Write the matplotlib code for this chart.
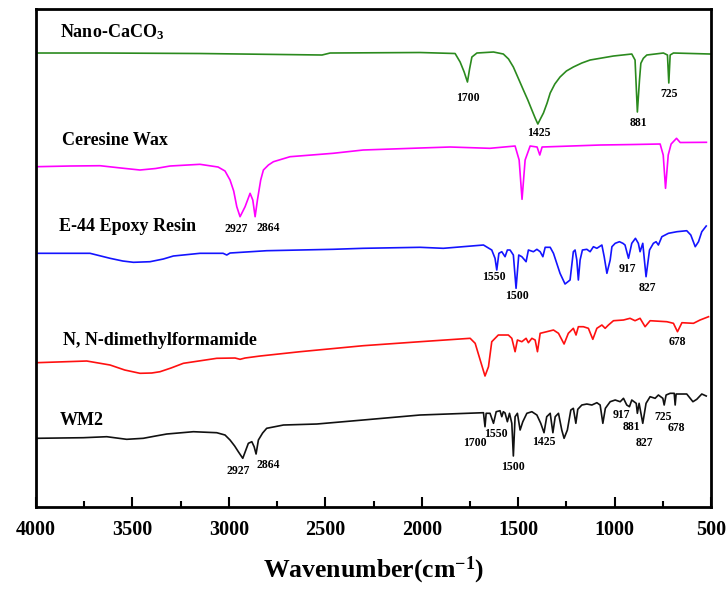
import matplotlib
matplotlib.use("Agg")
import matplotlib.pyplot as plt

plt.rcParams['font.family'] = ['Liberation Serif', 'DejaVu Serif']
plt.rcParams['font.weight'] = 'bold'
plt.rcParams['mathtext.fontset'] = 'custom'
plt.rcParams['mathtext.rm'] = 'Liberation Serif:bold'
plt.rcParams['mathtext.bf'] = 'Liberation Serif:bold'
plt.rcParams['mathtext.it'] = 'Liberation Serif:bold'

# spectra: wavenumber (cm-1) and transmittance (a.u., stacked)
wn_caco3 = [4000, 3668, 3149, 2517, 2475, 2009, 1827, 1801, 1780, 1763, 1752, 1740, 1714, 1628,
            1577, 1550, 1525, 1500, 1473, 1450, 1429, 1412, 1398, 1385, 1369, 1350, 1334, 1310,
            1283, 1250, 1214, 1170, 1127, 1006, 911, 894, 882,
            871, 864, 851, 833, 747, 726, 719, 712, 695, 505]
t_caco3 = [454, 454, 453.5, 452, 454, 454.5, 453.5, 445, 435, 425, 438, 450, 454, 455,
           453, 448, 440, 429, 417, 407, 397, 389, 383, 388, 394, 404, 414, 423,
           430, 436, 440, 444, 447, 451, 453, 447, 395,
           427, 443.7, 448.7, 452, 454, 452, 424, 452, 454, 453]

wn_wax = [4000, 3824, 3668, 3560, 3461, 3380, 3305, 3150, 3056, 3020, 2994, 2975, 2959, 2942, 2916,
          2890, 2876, 2864, 2852, 2835, 2821, 2795, 2769, 2683, 2460, 2304, 2009, 1853, 1647,
          1516, 1495, 1480, 1464, 1438, 1402, 1388, 1376, 1075, 904, 764, 748, 736, 722, 707,
          679, 660, 524]
t_wax = [340.3, 341, 341.3, 339, 337, 338.5, 341, 342.7, 340, 336, 327, 316, 300.3, 290.3, 300.3,
         313.7, 307, 290.3, 307, 327, 337, 342, 345.3, 350.3, 353.7, 357, 359, 360, 358.7,
         361, 347, 307.7, 347, 361, 360, 352, 360, 362, 362.5, 363, 352, 318.7, 352, 363,
         368.7, 364.5, 364.7]

wn_epoxy = [4000, 3720, 3616, 3550, 3495, 3409, 3340, 3288, 3150, 3030, 3011, 2994, 2804, 2460,
            2304, 2009, 1888, 1680, 1637, 1620, 1611, 1600, 1585, 1568, 1556, 1542, 1525, 1511,
            1497, 1481, 1459, 1447, 1421, 1403, 1386, 1372, 1360, 1334, 1317, 1300, 1283, 1257,
            1231, 1214, 1205, 1196, 1188, 1179, 1167, 1144, 1127, 1110, 1092, 1066, 1054, 1040,
            1023, 1014, 997, 975, 957, 946, 928, 911, 892, 877, 868, 854, 837, 819,
            799, 785, 773, 755, 721, 677, 626, 605, 582, 565, 548, 525]
t_epoxy = [253.7, 253.7, 248.7, 246, 244.7, 245.3, 248, 251, 253.7, 253.7, 252, 254, 256.3, 257.7,
           258.7, 259.7, 258.7, 262, 257, 248.7, 237, 253.7, 255.3, 250.3, 257, 257, 252, 218.7,
           252, 250.3, 245.3, 257, 255.3, 257.7, 255.3, 250.3, 259.7, 259.7, 253.7, 243.7, 233.7, 223,
           227, 255.3, 257, 247, 227, 247, 257, 257.7, 255.3, 260.3, 258.7, 262, 250.3, 233.7,
           247, 260.3, 263.7, 265.3, 263.7, 262, 248.7, 263.7, 268.7, 263.7, 255.3, 263.7, 230.3, 257,
           263.7, 265.3, 262, 270.3, 273.7, 275.3, 276.3, 272, 260.3, 265.3, 275.3, 281]

wn_dmf = [4000, 3737, 3616, 3540, 3461, 3400, 3357, 3300, 3236, 3063, 2968, 2942, 2916, 2838,
          2631, 2304, 2009, 1749, 1723, 1697, 1672, 1654, 1637, 1603, 1551, 1533, 1516, 1504,
          1481, 1459, 1447, 1429, 1412, 1400, 1386, 1352, 1317, 1291, 1262, 1240, 1214, 1200,
          1188, 1162, 1136, 1113, 1092, 1066, 1049, 1032, 1006, 954, 920, 894, 868, 842,
          816, 729, 695, 674, 651, 591, 557, 513]
t_dmf = [144.3, 146, 142, 137, 133.7, 134, 135.3, 139, 143.7, 148.7, 149, 147.7, 149, 151,
         155.3, 161.3, 165.3, 168.7, 163.7, 147, 131, 140.3, 165.3, 172, 172, 168.7, 155.3, 167,
         165.3, 168.7, 164.3, 168.7, 167, 155.3, 173.7, 175.3, 177, 173.7, 163, 173.7, 178.7, 172,
         180.3, 180.3, 178.7, 167.7, 178.7, 182, 178.7, 182, 186.3, 187, 188.7, 186.3, 188.7, 180.3,
         186.3, 185.3, 183.7, 175.3, 184.3, 183.7, 187, 190.3]

wn_wm2 = [4000, 3755, 3633, 3530, 3444, 3380, 3322, 3184, 3063, 3020, 2994, 2970, 2951, 2928,
          2899, 2881, 2869, 2859, 2847, 2825, 2804, 2717, 2544, 2304, 2009, 1680, 1672, 1666,
          1646, 1628, 1614, 1594, 1585, 1577, 1568, 1556, 1545, 1533, 1525, 1516, 1504, 1490,
          1476, 1455, 1429, 1403, 1383, 1366, 1352, 1334, 1320, 1308, 1291, 1274, 1262, 1245,
          1227, 1214, 1201, 1191, 1170, 1144, 1118, 1092, 1075, 1061, 1048, 1023, 997, 971,
          954, 937, 923, 911, 888, 882, 873, 854, 837, 816, 790, 773, 750, 743,
          733, 712, 691, 686, 681, 626, 594, 574, 548, 525]
t_wm2 = [68.7, 69.3, 70.3, 67.7, 68.7, 71, 73, 75.3, 74.3, 72, 67, 61, 55.3, 48.7,
         63.7, 65.3, 60.3, 53, 67, 74, 78.7, 82, 83, 87, 92, 94.3, 80.3, 93.7,
         93.7, 83.7, 95.3, 96.3, 90.3, 95.3, 94, 85.3, 93.7, 83.7, 51, 90.3, 93.7, 77,
         85.3, 93.7, 95.3, 92, 83.7, 74.3, 90.3, 93.7, 74.3, 90.3, 93.7, 77, 68.7, 77,
         97, 98.7, 83.7, 97.7, 102, 103, 102, 104.3, 102, 83.7, 98.7, 105.3, 107, 105.3,
         108.7, 102, 100.3, 107, 103.7, 93.7, 103.7, 83.7, 103.7, 110.3, 108.7, 112, 108.7, 102,
         112, 113.7, 113.7, 102, 113, 113, 105.3, 107.7, 113, 111]

names = ['Nano-CaCO$_\\mathbf{3}$', 'Ceresine Wax', 'E-44 Epoxy Resin', 'N, N-dimethylformamide', 'WM2']
name_wn = [3876, 3867, 3879, 3858, 3879]
name_t = [474.7, 366.3, 280.3, 166.3, 87]

# peak labels: text, wavenumber, transmittance
peak_text = ['1700', '1425', '881', '725',
             '2927', '2864',
             '1550', '1500', '917', '827',
             '678',
             '2927', '2864', '1700', '1550', '1500', '1425', '917', '881', '827', '725', '678']
peak_wn = [1763, 1395, 876, 719,
           2963, 2795,
           1628, 1507, 933, 828,
           672,
           2951, 2795, 1723, 1614, 1528, 1369, 963, 914, 847, 750, 681]
peak_t = [408.7, 374.3, 384.3, 413,
          277.7, 279.3,
          230.3, 211, 237.7, 218.7,
          165.3,
          36.3, 42, 64.3, 73, 40.3, 65.3, 92, 80.3, 64.3, 90.3, 78.7]

fig = plt.figure(figsize=(7.26, 5.89), dpi=100)
ax = fig.add_axes([0.0496, 0.1392, 0.9298, 0.8455])

ax.plot(wn_caco3, t_caco3, color='#2b8a1e', lw=1.2)
ax.plot(wn_wax, t_wax, color='#ff00ff', lw=1.2)
ax.plot(wn_epoxy, t_epoxy, color='#1414ff', lw=1.2)
ax.plot(wn_dmf, t_dmf, color='#ff1010', lw=1.2)
ax.plot(wn_wm2, t_wm2, color='#111111', lw=1.2)

for n, x, y in zip(names, name_wn, name_t):
    ax.text(x, y, n, fontsize=13, fontweight='bold', ha='left', va='center')

for s, x, y in zip(peak_text, peak_wn, peak_t):
    ax.text(x, y, s, fontsize=8.5, fontweight='bold', ha='center', va='center')

ax.set_xlim(4000, 500)
ax.set_ylim(0, 498)
ax.set_xticks([4000, 3500, 3000, 2500, 2000, 1500, 1000, 500])
ax.set_xticks([3750, 3250, 2750, 2250, 1750, 1250, 750], minor=True)
ax.tick_params(axis='x', which='major', direction='in', length=7, width=1.5, labelsize=14.5, pad=9)
ax.tick_params(axis='x', which='minor', direction='in', length=4, width=1.5)
ax.set_yticks([])
for lab in ax.get_xticklabels():
    lab.set_fontweight('bold')
for sp in ax.spines.values():
    sp.set_linewidth(2)

ax.set_xlabel('Wavenumber(cm$^{\\mathbf{-1}}$)', fontsize=18.5, fontweight='bold', labelpad=11)

fig.savefig('out.png', dpi=100)
